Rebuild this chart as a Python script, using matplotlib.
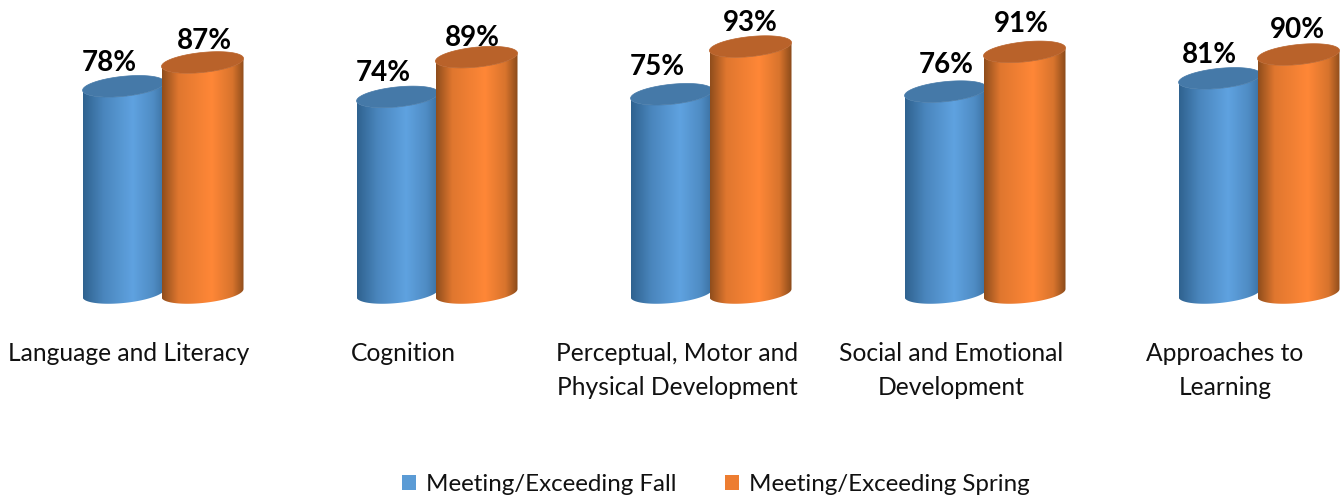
import numpy as np
import matplotlib
matplotlib.use("Agg")
import matplotlib.pyplot as plt
from matplotlib.colors import LinearSegmentedColormap
from matplotlib.patches import Patch, Polygon

# ==========================
# Data
# ==========================

categories = [
    "Language and Literacy",
    "Cognition",
    "Perceptual, Motor and\nPhysical Development",
    "Social and Emotional\nDevelopment",
    "Approaches to\nLearning",
]
fall_values = [78, 74, 75, 76, 81]
spring_values = [87, 89, 93, 91, 90]

series_names = ["Meeting/Exceeding Fall", "Meeting/Exceeding Spring"]

# ==========================
# Style
# ==========================

FONT = "Lato"
W, H = 1341, 497

GROUP_PX = 274
FIRST_GROUP_PX = 162.5
BASE_PX = 293
PX_PER_PCT = 2.65

blue_cmap = LinearSegmentedColormap.from_list(
    "blue", [(0, "#2f628f"), (0.25, "#4a86bd"), (0.6, "#5fa2e0"), (0.85, "#4f8cc4"), (1, "#3a6f9f")]
)
orange_cmap = LinearSegmentedColormap.from_list(
    "orange", [(0, "#8f4d1c"), (0.2, "#e0772f"), (0.6, "#ff8737"), (0.85, "#d8742d"), (1, "#8a4a1a")]
)
blue_top = "#4579a8"
orange_top = "#b9622a"

# label nudges in points, (fall, spring)
fall_nudge = [(-10, -1.4), (-10, -0.7), (-10, 1.6), (0.5, 1.3), (-7.5, -1.4)]
spring_nudge = [(1.5, -2.2), (-3, -4.2), (0, -1.4), (-2, 2), (-0.5, -0.7)]

# ==========================
# Axes in category / percent units
# ==========================

fig = plt.figure(figsize=(W / 100, H / 100), dpi=100)
ax = fig.add_axes([0, 0, 1, 1])
ax.axis("off")

x_min = -FIRST_GROUP_PX / GROUP_PX
x_max = (W - FIRST_GROUP_PX) / GROUP_PX
y_min = -(H - BASE_PX) / PX_PER_PCT
y_max = BASE_PX / PX_PER_PCT

half_w = 41 / GROUP_PX
semi_y = 10 / PX_PER_PCT
tilt_y = 4 / PX_PER_PCT


def ellipse_points(cx, cy, t):
    return cx + half_w * np.cos(t), cy + semi_y * np.sin(t) + tilt_y * np.cos(t)


def cylinder(cx, value, cmap, top_color, z):
    t_front = np.linspace(np.pi, 2 * np.pi, 80)
    bx, by = ellipse_points(cx, 0, t_front)
    tx, ty = ellipse_points(cx, value, t_front[::-1])
    body = Polygon(np.column_stack([np.r_[bx, tx], np.r_[by, ty]]), closed=True,
                   transform=ax.transData, fc="none", ec="none")
    ax.add_patch(body)
    img = ax.imshow(np.linspace(0, 1, 256)[None, :], cmap=cmap, aspect="auto",
                    extent=(cx - half_w, cx + half_w, -10, value + 10), zorder=z)
    img.set_clip_path(body)

    t_all = np.linspace(0, 2 * np.pi, 160)
    ex, ey = ellipse_points(cx, value, t_all)
    ax.fill(ex, ey, color=top_color, lw=0.5, zorder=z + 0.1)


for i in range(len(categories)):
    fall_x = i - 0.142
    spring_x = i + 0.146

    cylinder(fall_x, fall_values[i], blue_cmap, blue_top, 2 + i)
    cylinder(spring_x, spring_values[i], orange_cmap, orange_top, 2.5 + i)

    ax.annotate(f"{fall_values[i]}%", (fall_x, fall_values[i]),
                xytext=(fall_nudge[i][0], 18 + fall_nudge[i][1]), textcoords="offset points",
                ha="center", va="center", fontsize=20, fontweight="bold", family=FONT, color="black", zorder=20)
    ax.annotate(f"{spring_values[i]}%", (spring_x, spring_values[i]),
                xytext=(spring_nudge[i][0], 18 + spring_nudge[i][1]), textcoords="offset points",
                ha="center", va="center", fontsize=20, fontweight="bold", family=FONT, color="black", zorder=20)

    ax.text(i - 0.122, -18.6, categories[i], ha="center", va="top", fontsize=17.7,
            family=FONT, color="#111111", linespacing=1.58)

ax.set_xlim(x_min, x_max)
ax.set_ylim(y_min, y_max)

# ==========================
# Legend
# ==========================

handles = [Patch(fc="#5b9bd5", lw=0), Patch(fc="#ed7d31", lw=0)]
fig.legend(handles, series_names, loc="lower center", bbox_to_anchor=(0.5335, -0.04), ncol=2,
           frameon=False, prop={"family": FONT, "size": 17.4}, handlelength=0.58, handleheight=0.58,
           handletextpad=0.42, columnspacing=2.0, labelcolor="#111111")

plt.savefig("out.png", dpi=100)
